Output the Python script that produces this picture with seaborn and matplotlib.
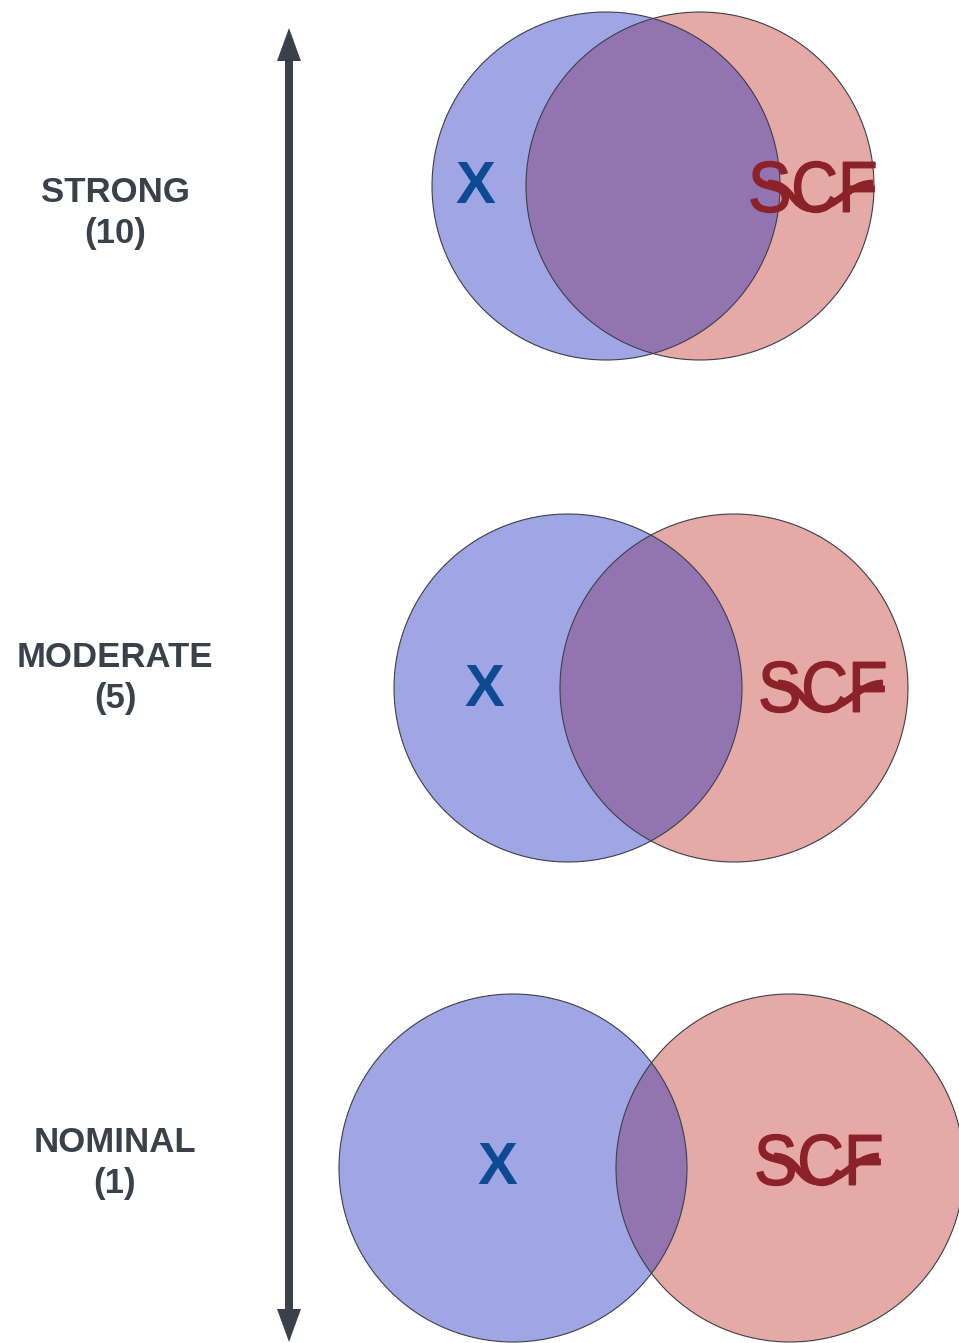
import matplotlib
matplotlib.use("Agg")
import matplotlib.pyplot as plt
import seaborn as sns
from matplotlib.patches import Circle, FancyArrow, PathPatch
from matplotlib.textpath import TextPath
from matplotlib.font_manager import FontProperties
from matplotlib.path import Path
from matplotlib.transforms import Affine2D

# data (pixel units)
levels = ["STRONG", "MODERATE", "NOMINAL"]
scores = [10, 5, 1]
label_base = [202, 667, 1152]
blue_x = [606, 568, 513]
red_x = [700, 734, 790]
center_y = [186, 688, 1168]
radius = [174, 174, 174]
x_pos = [475, 484, 497]
x_base = [203, 706, 1184]
logo_x = [813, 823, 819]
logo_y = [187, 687, 1160]

sns.set_theme(style="white")
plt.rcParams['font.family'] = ['Liberation Sans', 'DejaVu Sans']

W, H = 959, 1343
fig = plt.figure(figsize=(W / 100, H / 100), dpi=100)
ax = fig.add_axes([0, 0, 1, 1])
ax.set_xlim(0, W)
ax.set_ylim(H, 0)
ax.axis("off")

blue = "#a0a6e4"
red = "#e5aaa6"
purple = "#9275b0"
edge = "#3a3f4a"
dark = "#3b404b"
logo_c = "#8c2229"

# vertical double arrow (two halves from the middle)
mid = (28 + 1342) / 2
for tip in (28, 1342):
    ax.add_patch(FancyArrow(289, mid, 0, tip - mid, width=8, head_width=24,
                            head_length=33, length_includes_head=True,
                            color=dark, linewidth=0))

fp = FontProperties(family="Liberation Sans", weight="normal")
tp = TextPath((0, 0), "SCF", prop=fp)
bb = tp.get_extents()

for i in range(len(levels)):
    b = Circle((blue_x[i], center_y[i]), radius[i], facecolor=blue, edgecolor="none")
    r = Circle((red_x[i], center_y[i]), radius[i], facecolor=red, edgecolor="none")
    ax.add_patch(b)
    ax.add_patch(r)
    ov = Circle((red_x[i], center_y[i]), radius[i], facecolor=purple, edgecolor="none")
    ax.add_patch(ov)
    ov.set_clip_path(b)
    for cx in (blue_x[i], red_x[i]):
        ax.add_patch(Circle((cx, center_y[i]), radius[i], fill=False,
                            edgecolor=edge, linewidth=0.8))

    ax.text(115, label_base[i], levels[i], ha="center", va="baseline",
            fontsize=25, fontweight="bold", color=dark)
    ax.text(115, label_base[i] + 41, f"({scores[i]})", ha="center", va="baseline",
            fontsize=25, fontweight="bold", color=dark)

    ax.text(x_pos[i], x_base[i], "X", ha="center", va="baseline",
            fontsize=43, fontweight="bold", color="#0e4a94")

    # SCF logo: letters squeezed into a 125x52 box plus a wave
    sx = 124 / bb.width
    sy = 51 / bb.height
    t = (Affine2D().translate(-bb.x0 - bb.width / 2, -bb.y0 - bb.height / 2)
         .scale(sx, -sy).translate(logo_x[i], logo_y[i]))
    ax.add_patch(PathPatch(t.transform_path(tp), facecolor=logo_c,
                           edgecolor=logo_c, linewidth=1.0))
    lx, ly = logo_x[i], logo_y[i]
    wave = Path([(lx - 45, ly - 4), (lx - 20, ly - 4), (lx - 22, ly + 22), (lx, ly + 22),
                 (lx + 25, ly + 22), (lx + 35, ly - 4), (lx + 60, ly - 4)],
                [Path.MOVETO, Path.CURVE4, Path.CURVE4, Path.CURVE4,
                 Path.CURVE4, Path.CURVE4, Path.CURVE4])
    ax.add_patch(PathPatch(wave, facecolor="none", edgecolor=logo_c, linewidth=4.8))

fig.savefig("out.png", dpi=100)
